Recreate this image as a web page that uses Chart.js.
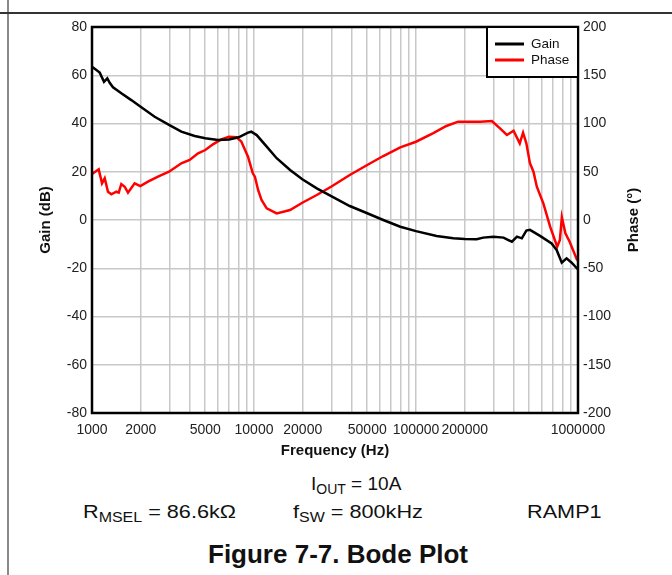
<!DOCTYPE html>
<html>
<head>
<meta charset="utf-8">
<script src="https://cdn.jsdelivr.net/npm/chart.js@4.4.1/dist/chart.umd.min.js"></script>
<style>
  html, body { margin: 0; padding: 0; background: #fff; }
  body { width: 672px; height: 575px; position: relative; overflow: hidden; font-family: 'Liberation Sans', Arial, sans-serif; color: #111; }
  #pageRule { position: absolute; left: 7px; top: 0; width: 2px; height: 575px; background: #8a8a8a; }
  #topRule { position: absolute; left: 0; top: 12px; width: 672px; height: 2px; background: #333; }
  #bode { position: absolute; left: 0; top: 0; }
  .note { position: absolute; font-size: 19px; line-height: 19px; white-space: nowrap; }
  .note sub { font-size: 14px; line-height: 0; vertical-align: -4px; }
  .wide { transform: scaleX(1.14); transform-origin: left center; }
  #caption { position: absolute; left: 208px; top: 541px; font-size: 26px; line-height: 26px; font-weight: bold; white-space: nowrap; }
</style>
</head>
<body>
<div id="pageRule"></div>
<div id="topRule"></div>
<canvas id="bode" width="672" height="465"></canvas>
<div class="note" style="left:311px;top:474px;">I<sub>OUT</sub> = 10A</div>
<div class="note wide" style="left:83px;top:502px;">R<sub>MSEL</sub> = 86.6kΩ</div>
<div class="note wide" style="left:293px;top:502px;">f<sub>SW</sub> = 800kHz</div>
<div class="note wide" style="left:527px;top:502px;">RAMP1</div>
<div id="caption">Figure 7-7. Bode Plot</div>

<script>
// Loop gain magnitude (dB) vs frequency (Hz)
const gainFreq = [1000, 1116, 1186, 1243, 1286, 1348, 1517, 1748, 1986, 2437, 2988, 3560, 4303, 5003, 5996,
  7017, 8041, 9184, 9620, 10390, 11980, 13800, 16700, 19870, 24410, 29950, 39000, 50000, 62800, 80000,
  100000, 134000, 170000, 200000, 237000, 260000, 300000, 347000, 372000, 391000, 420000, 450000, 480000,
  505000, 583000, 687000, 738000, 794000, 850000, 914000, 983000, 1000000];
const gainDb = [63.5, 61.1, 57.3, 58.7, 56.9, 55.0, 52.5, 49.7, 47.0, 42.8, 39.4, 36.6, 34.8, 33.9, 33.2,
  33.4, 34.3, 36.2, 36.6, 35.2, 30.4, 25.6, 20.7, 16.9, 13.1, 9.9, 5.8, 2.8, 0, -2.8,
  -4.6, -6.6, -7.6, -7.9, -8.0, -7.3, -6.9, -7.3, -8.3, -9.0, -6.9, -7.6, -4.4,
  -4.1, -6.6, -9.7, -12.4, -17.7, -15.9, -17.7, -20.0, -20.5];

// Loop phase (degrees) vs frequency (Hz)
const phaseFreq = [1000, 1100, 1153, 1198, 1255, 1316, 1413, 1462, 1517, 1592, 1668, 1833, 1987, 2215, 2555,
  2988, 3560, 4005, 4516, 5005, 5580, 6280, 7016, 7800, 8360, 9184, 9830, 10130, 10600, 11130, 11980,
  13800, 16700, 19870, 24400, 29900, 39000, 50000, 62800, 80000, 100000, 127000, 154000, 182000, 216000,
  249000, 294000, 330000, 364000, 400000, 437000, 458000, 480000, 505000, 531000, 557000, 611000, 673000,
  744000, 773000, 795000, 836000, 888000, 983000, 1000000];
const phaseDeg = [47.7, 52.5, 38, 43.2, 29.3, 26.6, 29.3, 28.3, 37.3, 34.5, 28.3, 38, 35.2, 39.7, 44.9,
  50, 58.8, 62.2, 69.1, 72.5, 78.4, 83.6, 86.3, 85.7, 81.2, 65.6, 48.4, 44.9, 31.1, 20.7, 12.1,
  6.9, 10.4, 17.9, 25.9, 34.5, 46.6, 57, 66.3, 75.3, 81.1, 89.8, 97.4, 101.9, 101.9,
  101.9, 102.6, 95, 88.1, 92.5, 79.5, 90.5, 79.5, 58.8, 50, 34.5, 17.3, -6.9,
  -27.6, -20.7, 2.8, -13.8, -22.5, -40.7, -42];

// grid lines at every 1..9 step of each decade, labels only on some
const xGridTicks = [1000, 2000, 3000, 4000, 5000, 6000, 7000, 8000, 9000,
  10000, 20000, 30000, 40000, 50000, 60000, 70000, 80000, 90000,
  100000, 200000, 300000, 400000, 500000, 600000, 700000, 800000, 900000, 1000000];
const xTickLabels = [1000, 2000, 5000, 10000, 20000, 50000, 100000, 200000, 1000000];

const FONT = "'Liberation Sans', Arial, sans-serif";
const GRID = '#c8c8c8';
const TICK_FONT = { family: FONT, size: 14 };
const TITLE_FONT = { family: FONT, size: 15, weight: 'bold' };

// plot frame, inset legend and the right-hand axis title (reads bottom-to-top)
const framePlugin = {
  id: 'frame',
  afterDatasetsDraw(chart) {
    const { ctx, chartArea: a } = chart;
    ctx.save();
    ctx.strokeStyle = '#000';
    ctx.lineWidth = 2.5;
    ctx.strokeRect(a.left, a.top, a.right - a.left, a.bottom - a.top);

    // legend box in upper-right corner
    const bw = 91, bh = 50;
    const bx = a.right - bw, by = a.top;
    ctx.fillStyle = '#fff';
    ctx.fillRect(bx, by, bw, bh);
    ctx.lineWidth = 2;
    ctx.strokeRect(bx, by, bw, bh);
    ctx.font = '13.5px ' + FONT;
    ctx.textBaseline = 'middle';
    chart.data.datasets.forEach((ds, i) => {
      const y = by + 17 + i * 16;
      ctx.strokeStyle = ds.borderColor;
      ctx.lineWidth = 3;
      ctx.beginPath();
      ctx.moveTo(bx + 8, y);
      ctx.lineTo(bx + 37, y);
      ctx.stroke();
      ctx.fillStyle = '#111';
      ctx.fillText(ds.label, bx + 44, y);
    });

    // phase axis title
    const r = chart.scales.y1;
    ctx.translate(r.right - 8, (a.top + a.bottom) / 2);
    ctx.rotate(-Math.PI / 2);
    ctx.font = 'bold 15px ' + FONT;
    ctx.textAlign = 'center';
    ctx.fillStyle = '#111';
    ctx.fillText('Phase (°)', 0, 0);
    ctx.restore();
  }
};

new Chart(document.getElementById('bode'), {
  type: 'line',
  data: {
    datasets: [{
      label: 'Gain',
      data: gainFreq.map((f, i) => ({ x: f, y: gainDb[i] })),
      borderColor: '#000000',
      borderWidth: 2.5,
      pointRadius: 0,
      yAxisID: 'y'
    }, {
      label: 'Phase',
      data: phaseFreq.map((f, i) => ({ x: f, y: phaseDeg[i] })),
      borderColor: '#ff0000',
      borderWidth: 2.5,
      pointRadius: 0,
      yAxisID: 'y1'
    }]
  },
  options: {
    responsive: false,
    animation: false,
    devicePixelRatio: 1,
    layout: { padding: { left: 37, right: 30, top: 27, bottom: 0 } },
    plugins: {
      legend: { display: false },
      tooltip: { enabled: false }
    },
    scales: {
      x: {
        type: 'logarithmic',
        min: 1000,
        max: 1000000,
        afterBuildTicks: scale => { scale.ticks = xGridTicks.map(v => ({ value: v })); },
        afterFit: scale => { scale.height = 52; },
        ticks: {
          autoSkip: false,
          maxRotation: 0,
          padding: 9,
          color: '#222',
          font: TICK_FONT,
          callback: v => xTickLabels.includes(v) ? String(v) : ''
        },
        grid: { color: GRID, lineWidth: 1.5, drawTicks: false },
        border: { display: false },
        title: {
          display: true,
          text: 'Frequency (Hz)',
          color: '#111',
          padding: { top: 0, bottom: 5 },
          font: TITLE_FONT
        }
      },
      y: {
        position: 'left',
        min: -80,
        max: 80,
        afterFit: scale => { scale.width = 55; },
        ticks: { stepSize: 20, padding: 5, color: '#222', font: TICK_FONT },
        grid: { color: GRID, lineWidth: 1.5, drawTicks: false },
        border: { display: false },
        title: {
          display: true,
          text: 'Gain (dB)',
          color: '#111',
          padding: 0,
          font: TITLE_FONT
        }
      },
      y1: {
        position: 'right',
        min: -200,
        max: 200,
        afterFit: scale => { scale.width = 64; },
        ticks: { stepSize: 50, padding: 5, color: '#222', font: TICK_FONT },
        grid: { display: false, drawTicks: false },
        border: { display: false }
      }
    }
  },
  plugins: [framePlugin]
});
</script>
</body>
</html>
